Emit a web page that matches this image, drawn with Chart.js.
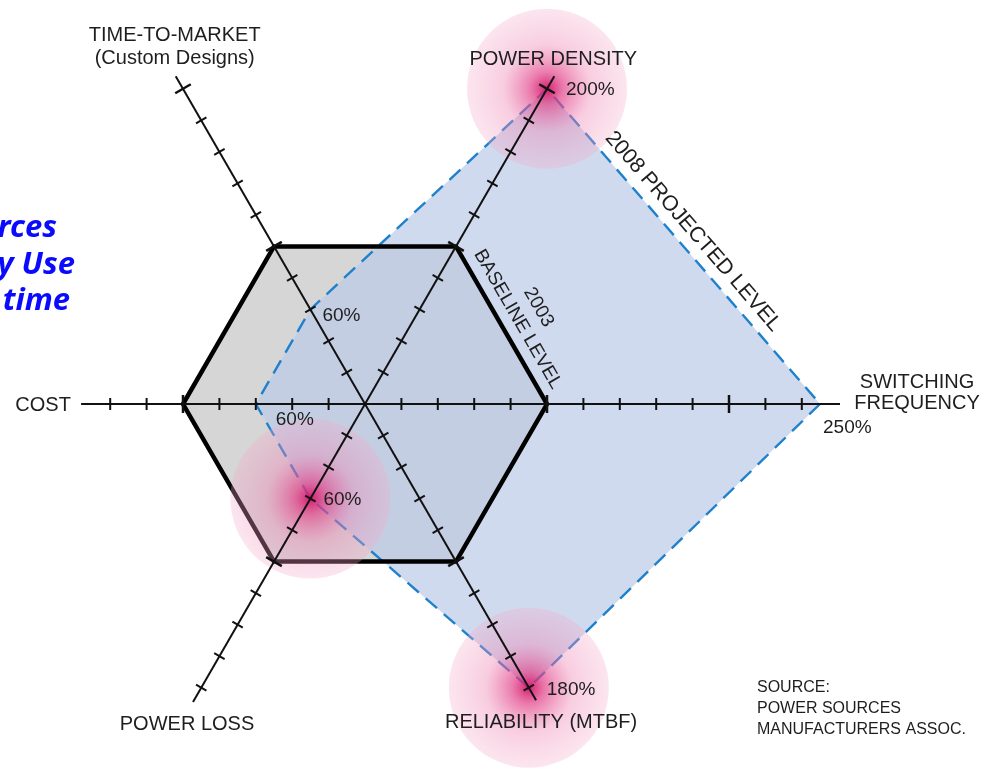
<!DOCTYPE html>
<html><head><meta charset="utf-8">
<script src="https://cdn.jsdelivr.net/npm/chart.js@4/dist/chart.umd.min.js"></script>
<style>html,body{margin:0;padding:0;background:#fff;}#wrap{width:982px;height:768px;}</style>
</head><body><div id="wrap"><canvas id="c" width="982" height="768"></canvas></div>
<script>
// ---- data ----
const axisLabels = ['SWITCHING FREQUENCY','RELIABILITY (MTBF)','POWER LOSS','COST','TIME-TO-MARKET','POWER DENSITY'];
const axisTitleLines = [['SWITCHING','FREQUENCY'],['RELIABILITY (MTBF)'],['POWER LOSS'],['COST'],['TIME-TO-MARKET','(Custom Designs)'],['POWER DENSITY']];
const baseline2003 = [100,100,100,100,100,100];
const projected2008 = [250,180,60,60,60,200];
const axisEnd = [261,188,189,156,208,208];
const tickMax = [240,180,180,140,200,200];
const tickStep = 20;
const highlighted = [5,2,1];
const sourceLines = ['SOURCE:','POWER SOURCES','MANUFACTURERS ASSOC.'];
const sideTextLines = ['rces','y Use','time'];

// ---- styling offsets ----
const titleOffsets = [[77,-22],[5,22],[-6,23],[-38,1],[-1,-41],[-1,-17]];
const titleLineGap = [21,0,0,0,23,0];
const pctOffsets = [[3,24],[18,2],[13,1],[20,16],[12,6],[19,1]];
const FONT = '"Liberation Sans", Arial, Helvetica, sans-serif';

// let the library's filler paint outside the (small) radial chart area
const widenArea = {
  id: 'widenArea',
  beforeDatasetsDraw(chart) {
    chart.$savedArea = chart.chartArea;
    chart.chartArea = { left: 0, top: 0, right: chart.width, bottom: chart.height, width: chart.width, height: chart.height };
  },
  afterDatasetsDraw(chart) {
    if (chart.$savedArea) { chart.chartArea = chart.$savedArea; }
  }
};

const overlay = {
  id: 'overlay',
  afterDatasetsDraw(chart) {
    const r = chart.scales.r, ctx = chart.ctx;
    const pos = (i, v) => r.getPointPositionForValue(i, v);
    ctx.save();
    // glows
    highlighted.forEach(i => {
      const p = pos(i, projected2008[i]);
      const rad = 80;
      const g = ctx.createRadialGradient(p.x, p.y, 0, p.x, p.y, rad);
      g.addColorStop(0, 'rgba(212,20,105,0.95)');
      g.addColorStop(0.2, 'rgba(225,65,135,0.7)');
      g.addColorStop(0.55, 'rgba(238,130,178,0.4)');
      g.addColorStop(1, 'rgba(244,170,200,0.3)');
      ctx.fillStyle = g;
      ctx.beginPath(); ctx.arc(p.x, p.y, rad, 0, Math.PI * 2); ctx.fill();
    });
    // axes and ticks
    ctx.strokeStyle = '#111';
    for (let i = 0; i < axisLabels.length; i++) {
      const a = pos(i, 0), b = pos(i, axisEnd[i]);
      ctx.lineWidth = 2;
      ctx.beginPath(); ctx.moveTo(a.x, a.y); ctx.lineTo(b.x, b.y); ctx.stroke();
      const ang = r.getIndexAngle(i) - Math.PI / 2;
      const nx = -Math.sin(ang), ny = Math.cos(ang);
      for (let v = tickStep; v <= tickMax[i]; v += tickStep) {
        const p = pos(i, v);
        const big = v % 100 === 0;
        const h = big ? 9 : 6;
        ctx.lineWidth = big ? 2.5 : 2;
        ctx.beginPath(); ctx.moveTo(p.x - nx * h, p.y - ny * h); ctx.lineTo(p.x + nx * h, p.y + ny * h); ctx.stroke();
      }
    }
    // axis titles
    ctx.fillStyle = '#1e1e1e';
    ctx.font = '20px ' + FONT;
    ctx.textAlign = 'center'; ctx.textBaseline = 'middle';
    for (let i = 0; i < axisLabels.length; i++) {
      const e = pos(i, axisEnd[i]);
      axisTitleLines[i].forEach((t, k) => {
        ctx.fillText(t, e.x + titleOffsets[i][0], e.y + titleOffsets[i][1] + k * titleLineGap[i]);
      });
    }
    // percent labels
    ctx.font = '19px ' + FONT;
    ctx.textAlign = 'left';
    for (let i = 0; i < projected2008.length; i++) {
      const p = pos(i, projected2008[i]);
      ctx.fillText(projected2008[i] + '%', p.x + pctOffsets[i][0], p.y + pctOffsets[i][1]);
    }
    // rotated series labels
    const rotLabel = (p1, p2, lines, along, dist, gap, size) => {
      const mx = (p1.x + p2.x) / 2, my = (p1.y + p2.y) / 2;
      const th = Math.atan2(p2.y - p1.y, p2.x - p1.x);
      ctx.save();
      ctx.translate(mx, my); ctx.rotate(th);
      ctx.font = size + 'px ' + FONT; ctx.textAlign = 'center'; ctx.textBaseline = 'middle';
      lines.forEach((t, k) => ctx.fillText(t, along, -dist - k * gap));
      ctx.restore();
    };
    rotLabel(pos(5, baseline2003[5]), pos(0, baseline2003[0]), ['BASELINE LEVEL', '2003'], 3, 17, 24, 19);
    rotLabel(pos(5, projected2008[5]), pos(0, projected2008[0]), ['2008 PROJECTED LEVEL'], -5, 17, 0, 21.5);
    // source
    ctx.font = '16px ' + FONT; ctx.textAlign = 'left';
    sourceLines.forEach((t, k) => ctx.fillText(t, 757, 688 + k * 21));
    // side text (cut off at left edge)
    ctx.fillStyle = '#0a0aff';
    ctx.font = 'italic bold 31px "Noto Sans", "Open Sans", sans-serif';
    ctx.textAlign = 'right'; ctx.textBaseline = 'alphabetic';
    const sx = [57, 75, 70];
    sideTextLines.forEach((t, k) => ctx.fillText(t, sx[k], 237 + k * 36.5));
    ctx.restore();
  }
};

new Chart(document.getElementById('c'), {
  type: 'radar',
  data: {
    labels: axisLabels,
    datasets: [
      { label: '2003 outline', data: baseline2003, fill: false, borderColor: '#000', borderWidth: 4.5, pointRadius: 0, order: 1, clip: false },
      { label: '2008 projected', data: projected2008, fill: 'origin', backgroundColor: 'rgba(189,203,231,0.71)', borderColor: '#1f80cc', borderWidth: 2.4, borderDash: [15, 9], pointRadius: 0, order: 2, clip: false },
      { label: '2003 baseline', data: baseline2003, fill: 'origin', backgroundColor: '#d6d6d6', borderWidth: 0, borderColor: 'rgba(0,0,0,0)', pointRadius: 0, order: 3, clip: false }
    ]
  },
  options: {
    responsive: false,
    animation: false,
    layout: { padding: { left: 183, right: 435, top: 222, bottom: 182 } },
    elements: { line: { tension: 0, borderJoinStyle: 'miter' } },
    plugins: { legend: { display: false }, tooltip: { enabled: false } },
    scales: {
      r: {
        min: 0, max: 100, startAngle: 90,
        ticks: { display: false },
        grid: { display: false },
        angleLines: { display: false },
        pointLabels: { display: false }
      }
    }
  },
  plugins: [widenArea, overlay]
});
</script>
</body></html>
